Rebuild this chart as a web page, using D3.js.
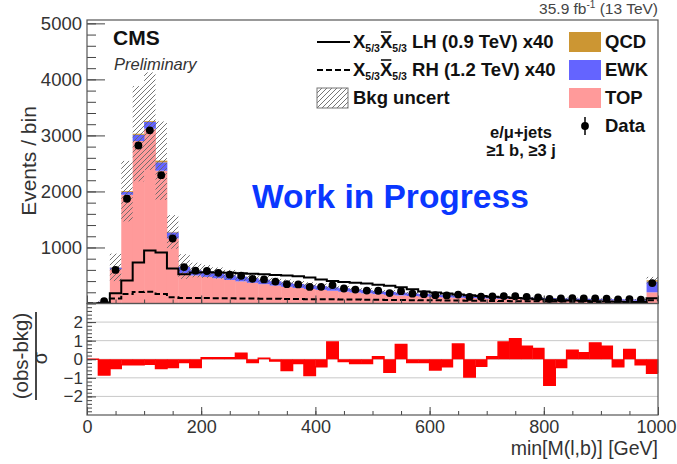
<!DOCTYPE html>
<html>
<head>
<meta charset="utf-8">
<script src="https://cdn.jsdelivr.net/npm/d3@7"></script>
<style>
  body { margin: 0; background: #fff; }
  svg { display: block; font-family: "Liberation Sans", Arial, sans-serif; }
</style>
</head>
<body>
<div id="chart"></div>
<script>
/* ------------------------------- data (20 GeV bins, last bin holds overflow) ------------------------------- */
var binWidth = 20;
var topVals = [0, 30, 610, 1940, 2900, 3120, 2370, 1160, 545, 500, 475, 450, 420, 395, 370, 345, 320, 298, 278, 260,
               244, 228, 212, 196, 182, 168, 155, 144, 134, 125, 116, 110, 104, 98, 93, 88, 84, 80, 76, 72,
               69, 66, 63, 60, 57, 55, 53, 51, 49, 200];
var ewkVals = [0, 5, 30, 50, 110, 120, 150, 110, 110, 95, 95, 90, 88, 85, 82, 80, 76, 72, 70, 68,
               66, 62, 60, 58, 55, 53, 52, 50, 46, 44, 42, 40, 38, 37, 35, 34, 33, 32, 31, 30,
               29, 28, 27, 26, 25, 24, 23, 22, 21, 190];
var qcdVals = [0, 0, 5, 15, 20, 15, 30, 8, 5, 3, 3, 3, 2, 2, 2, 2, 2, 2, 2, 2,
               2, 1, 1, 1, 1, 1, 1, 1, 1, 1, 1, 1, 1, 1, 1, 1, 1, 1, 1, 1,
               1, 1, 1, 1, 1, 1, 1, 1, 1, 25];
var dataVals = [0, 40, 600, 1870, 2820, 3090, 2290, 1160, 650, 585, 580, 548, 515, 495, 440, 430, 392, 345, 340, 295,
                298, 328, 268, 248, 230, 228, 186, 220, 176, 167, 148, 144, 160, 117, 122, 125, 133, 131, 119, 111,
                80, 89, 97, 91, 93, 88, 72, 79, 68, 365];
var bkgUnc = [0, 15, 245, 540, 850, 870, 700, 300, 220, 130, 115, 100, 90, 82, 75, 68, 62, 57, 53, 50,
              47, 44, 41, 39, 37, 35, 33, 31, 29, 27, 26, 25, 24, 23, 22, 21, 20, 19, 18, 17,
              16, 16, 15, 15, 14, 14, 13, 13, 12, 60];
var sigLH = [0, 0, 185, 410, 730, 945, 910, 625, 520, 555, 560, 555, 550, 540, 530, 520, 510, 500, 485, 465,
             430, 400, 385, 370, 355, 335, 315, 290, 255, 215, 195, 178, 162, 148, 135, 122, 110, 98, 88, 78,
             68, 60, 53, 47, 42, 37, 32, 28, 25, 95];
var sigRH = [0, 10, 90, 170, 205, 210, 170, 110, 100, 98, 96, 94, 92, 90, 88, 86, 84, 82, 80, 78,
             76, 74, 72, 70, 68, 66, 64, 62, 60, 58, 56, 54, 52, 50, 48, 46, 44, 42, 40, 38,
             36, 34, 32, 30, 29, 28, 27, 26, 25, 60];
var pullVals = [0, -0.85, -0.5, -0.3, -0.3, -0.27, -0.5, -0.45, -0.18, -0.45,
                0.08, 0.08, 0.08, 0.32, -0.18, 0.05, -0.1, -0.6, -0.23, -0.88,
                -0.4, 0.93, -0.12, -0.23, -0.23, 0.14, -0.7, 0.79, -0.18, -0.18,
                -0.58, -0.4, 0.82, -0.96, -0.38, 0.14, 0.93, 1.1, 0.7, 0.58,
                -1.4, -0.44, 0.49, 0.35, 0.88, 0.7, -0.4, 0.53, -0.3, -0.75];
var xTickLabels = [0, 200, 400, 600, 800, 1000];
var yTickLabels = [1000, 2000, 3000, 4000, 5000];
var pullTickLabels = [-2, -1, 0, 1, 2];
var bkgNames = ['QCD', 'EWK', 'TOP'];

/* ------------------------------- layout ------------------------------- */
var width = 677, height = 464;
var frameLeft = 87, frameRight = 658;
var mainTop = 20, mainBottom = 303.5, ratioBottom = 415;
var colors = { top: '#ff9a9a', ewk: '#6464ff', qcd: '#cc9633' };
var axisColor = '#333';

var svg = d3.select('#chart').append('svg')
    .attr('width', width)
    .attr('height', height);

var x = d3.scaleLinear().domain([0, 1000]).range([frameLeft, frameRight]);
var y = d3.scaleLinear().domain([0, 5060]).range([mainBottom, mainTop]);
var yr = d3.scaleLinear().domain([-3, 3]).range([ratioBottom, mainBottom]);

var bins = topVals.map(function(v, i) {
  return {
    lo: i * binWidth, hi: (i + 1) * binWidth,
    top: v, ewk: ewkVals[i], qcd: qcdVals[i],
    data: dataVals[i], unc: bkgUnc[i],
    lh: sigLH[i], rh: sigRH[i], pull: pullVals[i]
  };
});

var defs = svg.append('defs');
defs.append('clipPath').attr('id', 'mainClip').append('rect')
    .attr('x', frameLeft).attr('y', mainTop)
    .attr('width', frameRight - frameLeft).attr('height', mainBottom - mainTop);
var hatch = defs.append('pattern')
    .attr('id', 'hatch')
    .attr('patternUnits', 'userSpaceOnUse')
    .attr('width', 5).attr('height', 5);
hatch.append('path')
    .attr('d', 'M0,5 L5,0 M-1,1 L1,-1 M4,6 L6,4')
    .attr('stroke', '#666').attr('stroke-width', 0.9);

/* ------------------------------- main panel ------------------------------- */
var gMain = svg.append('g').attr('clip-path', 'url(#mainClip)');

var series = d3.stack().keys(['top', 'ewk', 'qcd'])(bins);
gMain.selectAll('g.layer')
    .data(series)
    .enter().append('g')
    .attr('fill', function(d) { return colors[d.key]; })
    .selectAll('rect')
    .data(function(d) { return d; })
    .enter().append('rect')
    .attr('x', function(d) { return x(d.data.lo); })
    .attr('width', function(d) { return x(d.data.hi) - x(d.data.lo) + 0.4; })
    .attr('y', function(d) { return y(d[1]); })
    .attr('height', function(d) { return Math.max(0, y(d[0]) - y(d[1])); });

// background uncertainty band
gMain.selectAll('rect.unc')
    .data(bins.filter(function(b) { return b.unc > 0; }))
    .enter().append('rect')
    .attr('class', 'unc')
    .attr('x', function(d) { return x(d.lo); })
    .attr('width', function(d) { return x(d.hi) - x(d.lo); })
    .attr('y', function(d) { return y(d.top + d.ewk + d.qcd + d.unc); })
    .attr('height', function(d) {
      var tot = d.top + d.ewk + d.qcd;
      return y(Math.max(0, tot - d.unc)) - y(tot + d.unc);
    })
    .attr('fill', 'url(#hatch)');

// signal step lines
var stepLine = d3.line()
    .x(function(d) { return x(d[0]); })
    .y(function(d) { return y(d[1]); })
    .curve(d3.curveStepAfter);
function stepPoints(key) {
  var pts = bins.map(function(b) { return [b.lo, b[key]]; });
  pts.push([1000, bins[bins.length - 1][key]]);
  return pts;
}
gMain.append('path')
    .attr('d', stepLine(stepPoints('lh')))
    .attr('fill', 'none').attr('stroke', '#000').attr('stroke-width', 2);
gMain.append('path')
    .attr('d', stepLine(stepPoints('rh')))
    .attr('fill', 'none').attr('stroke', '#000').attr('stroke-width', 2)
    .attr('stroke-dasharray', '6,3');

// data points
var dataBins = bins.filter(function(b) { return b.data > 0; });
gMain.selectAll('line.err')
    .data(dataBins)
    .enter().append('line')
    .attr('x1', function(d) { return x((d.lo + d.hi) / 2); })
    .attr('x2', function(d) { return x((d.lo + d.hi) / 2); })
    .attr('y1', function(d) { return y(d.data + Math.sqrt(d.data)); })
    .attr('y2', function(d) { return y(d.data - Math.sqrt(d.data)); })
    .attr('stroke', '#000').attr('stroke-width', 1.5);
gMain.selectAll('circle.pt')
    .data(dataBins)
    .enter().append('circle')
    .attr('cx', function(d) { return x((d.lo + d.hi) / 2); })
    .attr('cy', function(d) { return y(d.data); })
    .attr('r', 3.9)
    .attr('fill', '#000');

/* ------------------------------- ratio panel ------------------------------- */
var gRatio = svg.append('g');
gRatio.selectAll('line.grid')
    .data(pullTickLabels)
    .enter().append('line')
    .attr('x1', frameLeft).attr('x2', frameRight)
    .attr('y1', function(d) { return yr(d); })
    .attr('y2', function(d) { return yr(d); })
    .attr('stroke', '#c8c8c8').attr('stroke-width', 1);
gRatio.selectAll('rect.pull')
    .data(bins)
    .enter().append('rect')
    .attr('x', function(d) { return x(d.lo); })
    .attr('width', function(d) { return x(d.hi) - x(d.lo) + 0.4; })
    .attr('y', function(d) { return Math.min(yr(0), yr(d.pull)); })
    .attr('height', function(d) { return Math.abs(yr(d.pull) - yr(0)); })
    .attr('fill', '#ff0000');
var pullLine = d3.line()
    .x(function(d) { return x(d[0]); })
    .y(function(d) { return yr(d[1]); })
    .curve(d3.curveStepAfter);
var pullPts = bins.map(function(b) { return [b.lo, b.pull]; });
pullPts.push([1000, bins[bins.length - 1].pull]);
gRatio.append('path')
    .attr('d', pullLine(pullPts))
    .attr('fill', 'none').attr('stroke', '#ff0000').attr('stroke-width', 1.5);

/* ------------------------------- axes ------------------------------- */
function styleAxis(g) {
  g.select('.domain').remove();
  g.selectAll('line').attr('stroke', '#444');
  g.selectAll('text').attr('fill', axisColor).attr('font-family', '"Liberation Sans", Arial, sans-serif');
}
// main y
svg.append('g').attr('transform', 'translate(' + frameLeft + ',0)')
    .call(d3.axisLeft(y).tickValues(d3.range(0, 5001, 200)).tickSize(-9).tickFormat(''))
    .call(styleAxis);
svg.append('g').attr('transform', 'translate(' + frameLeft + ',0)')
    .call(d3.axisLeft(y).tickValues(yTickLabels).tickSize(-18).tickPadding(5).tickFormat(d3.format('d')))
    .call(styleAxis)
    .selectAll('text').attr('font-size', 18.5);
// ratio y
svg.append('g').attr('transform', 'translate(' + frameLeft + ',0)')
    .call(d3.axisLeft(yr).tickValues(d3.range(-2.8, 2.81, 0.2)).tickSize(-5).tickFormat(''))
    .call(styleAxis);
svg.append('g').attr('transform', 'translate(' + frameLeft + ',0)')
    .call(d3.axisLeft(yr).tickValues(pullTickLabels).tickSize(-9).tickPadding(4).tickFormat(d3.format('d')))
    .call(styleAxis)
    .selectAll('text').attr('font-size', 17);
// x ticks on both panels, labels only under the ratio panel
[mainBottom, ratioBottom].forEach(function(yy, k) {
  svg.append('g').attr('transform', 'translate(0,' + yy + ')')
      .call(d3.axisBottom(x).tickValues(d3.range(0, 1001, 50)).tickSize(-4).tickFormat(''))
      .call(styleAxis);
  var ax = svg.append('g').attr('transform', 'translate(0,' + yy + ')')
      .call(d3.axisBottom(x).tickValues(xTickLabels).tickSize(-8).tickPadding(5)
        .tickFormat(k === 1 ? d3.format('d') : function() { return ''; }))
      .call(styleAxis);
  ax.selectAll('text').attr('font-size', 18);
  // the last label sits right at the window edge
  ax.selectAll('text').filter(function(d) { return d === 1000; }).attr('dx', -2);
});

// frames
svg.append('rect')
    .attr('x', frameLeft).attr('y', mainTop)
    .attr('width', frameRight - frameLeft).attr('height', mainBottom - mainTop)
    .attr('fill', 'none').attr('stroke', '#555').attr('stroke-width', 1.2);
svg.append('rect')
    .attr('x', frameLeft).attr('y', mainBottom)
    .attr('width', frameRight - frameLeft).attr('height', ratioBottom - mainBottom)
    .attr('fill', 'none').attr('stroke', '#555').attr('stroke-width', 1.2);

// axis titles
svg.append('text')
    .attr('transform', 'translate(36,161) rotate(-90)')
    .attr('text-anchor', 'middle').attr('font-size', 21).attr('fill', axisColor)
    .text('Events / bin');
svg.append('text')
    .attr('transform', 'translate(28,356) rotate(-90)')
    .attr('text-anchor', 'middle').attr('font-size', 20.5).attr('fill', axisColor)
    .text('(obs-bkg)');
svg.append('line')
    .attr('x1', 36).attr('x2', 36).attr('y1', 312).attr('y2', 400)
    .attr('stroke', axisColor).attr('stroke-width', 1.8);
svg.append('text')
    .attr('transform', 'translate(47,358) rotate(-90)')
    .attr('text-anchor', 'middle').attr('font-size', 20).attr('fill', axisColor)
    .text('σ');
svg.append('text')
    .attr('x', frameRight).attr('y', 455)
    .attr('text-anchor', 'end').attr('font-size', 19.5).attr('fill', axisColor)
    .text('min[M(l,b)] [GeV]');

/* ------------------------------- labels ------------------------------- */
svg.append('text')
    .attr('x', frameRight).attr('y', 14)
    .attr('text-anchor', 'end').attr('font-size', 15.5).attr('fill', '#444')
    .html('35.9 fb<tspan dy="-6" font-size="10">-1</tspan><tspan dy="6"> (13 TeV)</tspan>');
svg.append('text')
    .attr('x', 113).attr('y', 45)
    .attr('font-size', 21).attr('font-weight', 'bold').attr('fill', '#111')
    .text('CMS');
svg.append('text')
    .attr('x', 114).attr('y', 70)
    .attr('font-size', 16.5).attr('font-style', 'italic').attr('fill', '#333')
    .text('Preliminary');
svg.append('text')
    .attr('x', 521).attr('y', 138)
    .attr('text-anchor', 'middle').attr('font-size', 16.5).attr('font-weight', 'bold').attr('fill', '#111')
    .text('e/μ+jets');
svg.append('text')
    .attr('x', 521).attr('y', 156)
    .attr('text-anchor', 'middle').attr('font-size', 16.5).attr('font-weight', 'bold').attr('fill', '#111')
    .text('≥1 b, ≥3 j');
svg.append('text')
    .attr('x', 252).attr('y', 208)
    .attr('font-size', 33.5).attr('font-weight', 'bold').attr('fill', '#0a37ff')
    .text('Work in Progress');

/* ------------------------------- legend ------------------------------- */
var legendLeft = [
  { mass: 'LH (0.9 TeV) x40', dash: null },
  { mass: 'RH (1.2 TeV) x40', dash: '6,3' }
];
var legendFont = 18.5;
var rowY = [42, 70, 98, 126];
legendLeft.forEach(function(item, i) {
  svg.append('line')
      .attr('x1', 317).attr('x2', 350).attr('y1', rowY[i]).attr('y2', rowY[i])
      .attr('stroke', '#000').attr('stroke-width', 2)
      .attr('stroke-dasharray', item.dash);
  var t = svg.append('text')
      .attr('x', 353).attr('y', rowY[i] + 6)
      .attr('font-size', legendFont).attr('font-weight', 'bold').attr('fill', '#111');
  t.append('tspan').text('X');
  t.append('tspan').attr('font-size', 10.5).attr('dy', 4).text('5/3');
  t.append('tspan').attr('dy', -4).text('X');
  t.append('tspan').attr('font-size', 10.5).attr('dy', 4).text('5/3');
  t.append('tspan').attr('dy', -4).text(' ' + item.mass);
  var ext = t.node().getExtentOfChar(4);
  svg.append('line')
      .attr('x1', ext.x + 1).attr('x2', ext.x + ext.width - 1)
      .attr('y1', rowY[i] + 6 - 16).attr('y2', rowY[i] + 6 - 16)
      .attr('stroke', '#111').attr('stroke-width', 1.6);
});
svg.append('rect')
    .attr('x', 317).attr('y', 88).attr('width', 31).attr('height', 20)
    .attr('fill', 'url(#hatch)').attr('stroke', '#777').attr('stroke-width', 1);
svg.append('text')
    .attr('x', 353).attr('y', rowY[2] + 6)
    .attr('font-size', legendFont).attr('font-weight', 'bold').attr('fill', '#111')
    .text('Bkg uncert');

var legendKeys = ['qcd', 'ewk', 'top'];
bkgNames.forEach(function(name, i) {
  svg.append('rect')
      .attr('x', 569).attr('y', rowY[i] - 10).attr('width', 32).attr('height', 20)
      .attr('fill', colors[legendKeys[i]]);
  svg.append('text')
      .attr('x', 605).attr('y', rowY[i] + 6)
      .attr('font-size', legendFont).attr('font-weight', 'bold').attr('fill', '#111')
      .text(name);
});
svg.append('line')
    .attr('x1', 585).attr('x2', 585).attr('y1', rowY[3] - 9).attr('y2', rowY[3] + 9)
    .attr('stroke', '#000').attr('stroke-width', 1.5);
svg.append('circle')
    .attr('cx', 585).attr('cy', rowY[3]).attr('r', 3.9).attr('fill', '#000');
svg.append('text')
    .attr('x', 605).attr('y', rowY[3] + 6)
    .attr('font-size', legendFont).attr('font-weight', 'bold').attr('fill', '#111')
    .text('Data');
</script>
</body>
</html>
